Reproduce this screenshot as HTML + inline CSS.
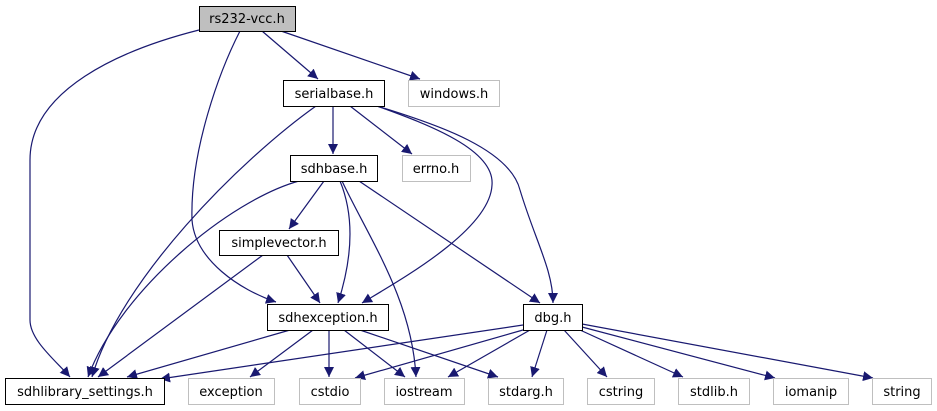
<!DOCTYPE html>
<html><head><meta charset="utf-8"><style>
html,body{margin:0;padding:0;background:#fff;width:937px;height:411px;overflow:hidden}
svg text{font-family:"DejaVu Sans","Liberation Sans",sans-serif;font-size:13px;fill:#000}
</style></head><body>
<svg width="937" height="411" viewBox="0 0 937 411" xmlns="http://www.w3.org/2000/svg">
<defs><marker id="a" markerUnits="userSpaceOnUse" markerWidth="11" markerHeight="10" refX="10" refY="5" orient="auto"><path d="M0,0 L10,5 L0,10 z" fill="#191970"/></marker></defs>
<g fill="none" stroke="#191970" stroke-width="1.2" marker-end="url(#a)">
<path d="M199,30 C120,50 30,90 30,160 L30,320 C30,340 55,360 70,377"/>
<path d="M240,31 C220,70 190,150 192,220 C195,260 240,290 276,302"/>
<path d="M262,31 L318,79"/>
<path d="M281,31 L420,79"/>
<path d="M316,106 C240,160 120,280 92,377"/>
<path d="M333,106 L333,154"/>
<path d="M350,106 L412,154"/>
<path d="M377,106 C430,125 495,150 492,185 C490,230 400,280 362,303"/>
<path d="M377,106 C440,125 510,150 520,190 C535,240 553,270 553,303"/>
<path d="M299,181 C230,200 120,290 88,377"/>
<path d="M324,181 L289,229"/>
<path d="M340,181 C352,210 355,250 338,303"/>
<path d="M342,181 C370,240 412,300 416,377"/>
<path d="M359,181 L540,303"/>
<path d="M263,255 L98,377"/>
<path d="M287,255 L320,303"/>
<path d="M290,330 L127,377"/>
<path d="M313,330 L250,377"/>
<path d="M329,330 L329,377"/>
<path d="M344,330 L405,377"/>
<path d="M360,330 L498,377"/>
<path d="M523,325 L160,379"/>
<path d="M523,330 L355,378"/>
<path d="M530,330 L448,377"/>
<path d="M547,330 L532,377"/>
<path d="M564,330 L607,377"/>
<path d="M580,330 L683,377"/>
<path d="M582,327 L775,378"/>
<path d="M582,324 L873,378"/>
</g>
<g stroke-width="1">
<rect x="199.5" y="6.5" width="96" height="25" fill="#bfbfbf" stroke="#000"/>
<rect x="283.5" y="80.5" width="101" height="26" fill="#fff" stroke="#000"/>
<rect x="408.5" y="80.5" width="91" height="26" fill="#fff" stroke="#bfbfbf"/>
<rect x="290.5" y="155.5" width="87" height="26" fill="#fff" stroke="#000"/>
<rect x="402.5" y="155.5" width="68" height="26" fill="#fff" stroke="#bfbfbf"/>
<rect x="219.5" y="230.5" width="119" height="25" fill="#fff" stroke="#000"/>
<rect x="267.5" y="304.5" width="121" height="26" fill="#fff" stroke="#000"/>
<rect x="523.5" y="304.5" width="59" height="26" fill="#fff" stroke="#000"/>
<rect x="5.5" y="378.5" width="159" height="26" fill="#fff" stroke="#000"/>
<rect x="188.5" y="378.5" width="86" height="26" fill="#fff" stroke="#bfbfbf"/>
<rect x="299.5" y="378.5" width="61" height="26" fill="#fff" stroke="#bfbfbf"/>
<rect x="384.5" y="378.5" width="80" height="26" fill="#fff" stroke="#bfbfbf"/>
<rect x="488.5" y="378.5" width="75" height="26" fill="#fff" stroke="#bfbfbf"/>
<rect x="587.5" y="378.5" width="67" height="26" fill="#fff" stroke="#bfbfbf"/>
<rect x="678.5" y="378.5" width="71" height="26" fill="#fff" stroke="#bfbfbf"/>
<rect x="773.5" y="378.5" width="75" height="26" fill="#fff" stroke="#bfbfbf"/>
<rect x="872.5" y="378.5" width="59" height="26" fill="#fff" stroke="#bfbfbf"/>
</g>
<g text-anchor="middle">
<text x="247" y="23">rs232-vcc.h</text>
<text x="334" y="98">serialbase.h</text>
<text x="454" y="98">windows.h</text>
<text x="334" y="173">sdhbase.h</text>
<text x="436" y="173">errno.h</text>
<text x="279" y="247">simplevector.h</text>
<text x="328" y="322">sdhexception.h</text>
<text x="553" y="322">dbg.h</text>
<text x="85" y="396">sdhlibrary_settings.h</text>
<text x="231" y="396">exception</text>
<text x="330" y="396">cstdio</text>
<text x="424" y="396">iostream</text>
<text x="526" y="396">stdarg.h</text>
<text x="621" y="396">cstring</text>
<text x="714" y="396">stdlib.h</text>
<text x="811" y="396">iomanip</text>
<text x="902" y="396">string</text>
</g>
</svg>
</body></html>
